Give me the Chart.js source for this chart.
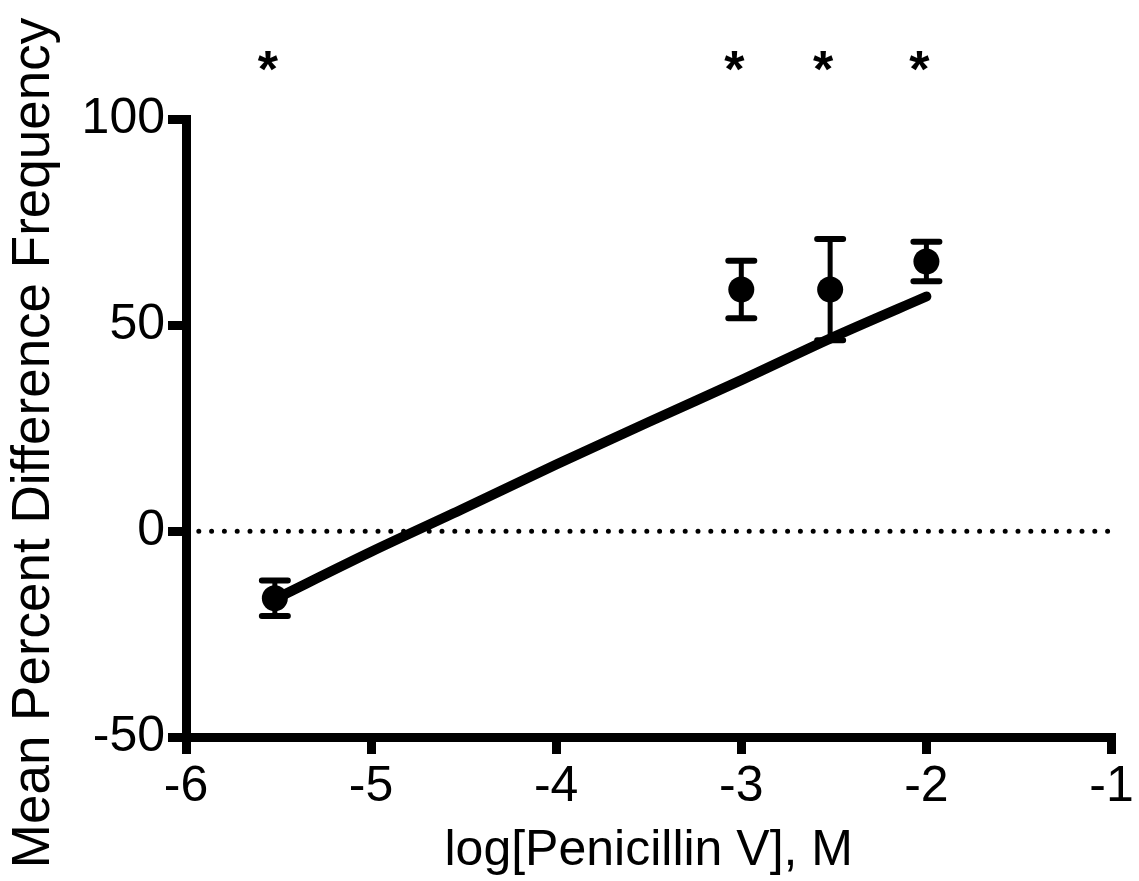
<!DOCTYPE html>
<html>
<head>
<meta charset="utf-8">
<script src="https://cdn.jsdelivr.net/npm/chart.js@4"></script>
<style>
  html, body { margin: 0; padding: 0; background: #fff; }
  #chart { display: block; }
</style>
</head>
<body>
<canvas id="chart" width="1139" height="881"></canvas>
<script>
// measured points (log molar dose vs mean % difference, +/- SEM)
const doseLog = [-5.52, -3.0, -2.52, -2.0];
const meanDiff = [-16.3, 58.7, 58.7, 65.5];
const semDiff = [4.3, 7.0, 12.3, 4.8];
const starMarks = ["*", "*", "*", "*"];

// fitted curve
const fitX = [-5.52, -5.0, -4.5, -4.0, -3.5, -3.0, -2.5, -2.0];
const fitY = [-16.5, -5.0, 5.5, 16.2, 26.5, 36.7, 47.2, 57.0];

// zero reference line
const zeroX = [-6, -1];
const zeroY = [0, 0];

const xMin = -6, xMax = -1, xStep = 1;
const yMin = -50, yMax = 100, yStep = 50;

Chart.defaults.font.family = "'Liberation Sans', Arial, sans-serif";
Chart.defaults.color = "#000";

const errorBars = {
    id: "errorBars",
    afterDatasetsDraw(chart) {
        const ctx = chart.ctx;
        const xs = chart.scales.x, ys = chart.scales.y;
        ctx.save();
        ctx.strokeStyle = "#000";
        ctx.lineCap = "round";
        doseLog.forEach((x, i) => {
            const px = xs.getPixelForValue(x);
            const top = ys.getPixelForValue(meanDiff[i] + semDiff[i]);
            const bot = ys.getPixelForValue(meanDiff[i] - semDiff[i]);
            ctx.lineWidth = 5;
            ctx.beginPath();
            ctx.moveTo(px, top);
            ctx.lineTo(px, bot);
            ctx.stroke();
            ctx.lineWidth = 6;
            ctx.beginPath();
            ctx.moveTo(px - 13, top);
            ctx.lineTo(px + 13, top);
            ctx.moveTo(px - 13, bot);
            ctx.lineTo(px + 13, bot);
            ctx.stroke();
        });
        ctx.restore();
    },
    afterDraw(chart) {
        const ctx = chart.ctx;
        const xs = chart.scales.x;
        ctx.save();
        ctx.fillStyle = "#000";
        ctx.font = "bold 52px 'Liberation Sans', Arial, sans-serif";
        ctx.textAlign = "center";
        ctx.textBaseline = "alphabetic";
        doseLog.forEach((x, i) => {
            ctx.fillText(starMarks[i], xs.getPixelForValue(x) - 7, chart.chartArea.top - 33);
        });
        ctx.restore();
    }
};

const ctx = document.getElementById("chart").getContext("2d");

new Chart(ctx, {
    type: "scatter",
    data: {
        datasets: [{
            label: "zero",
            type: "line",
            data: zeroX.map((x, i) => ({x: x, y: zeroY[i]})),
            borderColor: "#000",
            borderWidth: 5,
            borderDash: [0, 12.8],
            borderCapStyle: "round",
            pointRadius: 0,
            fill: false
        }, {
            label: "fit",
            type: "line",
            data: fitX.map((x, i) => ({x: x, y: fitY[i]})),
            borderColor: "#000",
            borderWidth: 10,
            borderCapStyle: "round",
            borderJoinStyle: "round",
            tension: 0.3,
            pointRadius: 0,
            fill: false
        }, {
            label: "mean",
            data: doseLog.map((x, i) => ({x: x, y: meanDiff[i]})),
            backgroundColor: "#000",
            borderColor: "#000",
            borderWidth: 0,
            pointRadius: 13,
            pointHoverRadius: 13
        }]
    },
    options: {
        responsive: false,
        animation: false,
        events: [],
        layout: {
            padding: {top: 119.5, right: 27.5, left: 0, bottom: 0}
        },
        plugins: {
            legend: {display: false},
            tooltip: {enabled: false}
        },
        scales: {
            x: {
                type: "linear",
                min: xMin,
                max: xMax,
                afterFit: (scale) => { scale.height = 144; },
                ticks: {
                    stepSize: xStep,
                    font: {size: 50},
                    color: "#000",
                    padding: 3,
                    maxRotation: 0
                },
                grid: {
                    drawOnChartArea: false,
                    drawTicks: true,
                    tickLength: 17,
                    lineWidth: 9,
                    color: "#000"
                },
                border: {color: "#000", width: 9},
                title: {
                    display: true,
                    text: "log[Penicillin V], M",
                    font: {size: 50},
                    color: "#000",
                    padding: {top: 0, bottom: 0}
                }
            },
            y: {
                type: "linear",
                min: yMin,
                max: yMax,
                afterFit: (scale) => { scale.width = 186; },
                ticks: {
                    stepSize: yStep,
                    font: {size: 50},
                    color: "#000",
                    padding: 3
                },
                grid: {
                    drawOnChartArea: false,
                    drawTicks: true,
                    tickLength: 18,
                    lineWidth: 9,
                    color: "#000"
                },
                border: {color: "#000", width: 9},
                title: {
                    display: true,
                    // trailing spaces nudge the rotated title down to match the original
                    text: "Mean Percent Difference Frequency  ",
                    font: {size: 53},
                    color: "#000",
                    padding: {top: 3, bottom: 0}
                }
            }
        }
    },
    plugins: [errorBars]
});
</script>
</body>
</html>
